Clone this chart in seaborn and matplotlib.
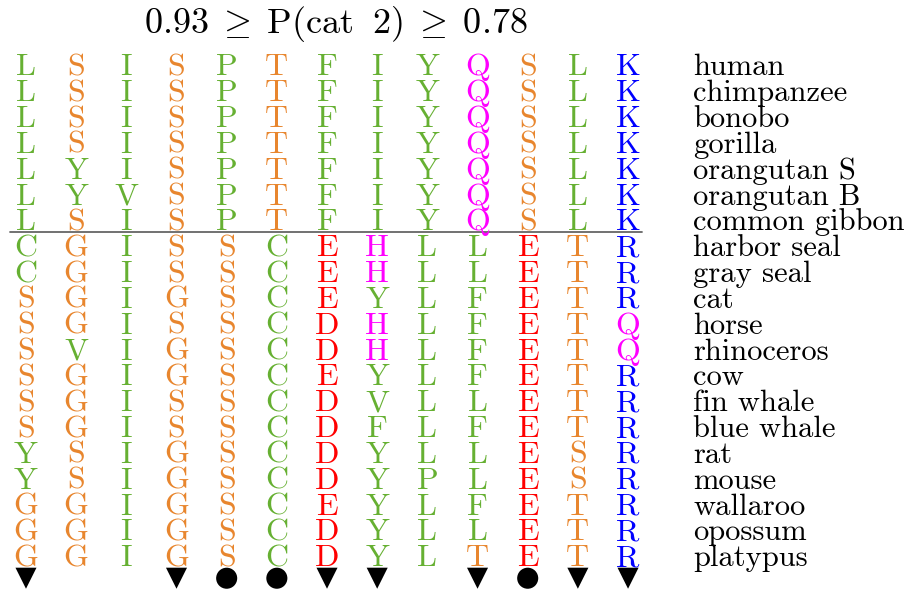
import matplotlib
matplotlib.use("Agg")
import matplotlib.pyplot as plt
import seaborn as sns
import pandas as pd

sns.set_theme(style="white")
plt.rcParams["mathtext.fontset"] = "cm"
plt.rcParams["font.family"] = ["cmr10", "DejaVu Sans"]
plt.rcParams["axes.formatter.use_mathtext"] = True

species = ["human", "chimpanzee", "bonobo", "gorilla", "orangutan S", "orangutan B",
           "common gibbon", "harbor seal", "gray seal", "cat", "horse", "rhinoceros",
           "cow", "fin whale", "blue whale", "rat", "mouse", "wallaroo", "opossum",
           "platypus"]
sequences = ["LSISPTFIYQSLK", "LSISPTFIYQSLK", "LSISPTFIYQSLK", "LSISPTFIYQSLK",
             "LYISPTFIYQSLK", "LYVSPTFIYQSLK", "LSISPTFIYQSLK",
             "CGISSCEHLLETR", "CGISSCEHLLETR", "SGIGSCEYLFETR", "SGISSCDHLFETQ",
             "SVIGSCDHLFETQ", "SGIGSCEYLFETR", "SGISSCDVLLETR", "SGISSCDFLFETR",
             "YSIGSCDYLLESR", "YSIGSCDYPLESR", "GGIGSCEYLFETR", "GGIGSCDYLLETR",
             "GGIGSCDYLTETR"]
marker_kind = ["v", "", "", "v", "o", "o", "v", "v", "", "v", "o", "v", "v"]
title = r"$0.93\;\geq\;\mathrm{P(cat\;\ 2)}\;\geq\;0.78$"
split_after = 7

green, orange = "#66b032", "#e8862e"
aa_colors = {}
for a in "LIPFYCVWMA":
    aa_colors[a] = green
for a in "STGN":
    aa_colors[a] = orange
for a in "ED":
    aa_colors[a] = "#ff0000"
for a in "QH":
    aa_colors[a] = "#ff00ff"
for a in "KR":
    aa_colors[a] = "#0000ff"

fig = plt.figure(figsize=(9.08, 5.89), dpi=100)
ax = fig.add_axes([0, 0, 1, 1])
ax.set_xlim(-0.518, 17.58)
ax.set_ylim(20.317, -2.477)
ax.axis("off")

fs = 23
for r, seq in enumerate(sequences):
    for c, aa in enumerate(seq):
        ax.text(c, r + 0.44, aa, ha="center", va="baseline", fontsize=fs,
                color=aa_colors[aa])
    ax.text(13.3, r + 0.44, species[r], ha="left", va="baseline", fontsize=22,
            color="black")

ax.plot([-0.32, 12.28], [split_after - 0.5, split_after - 0.5], color="#666666", lw=1.3)

mdf = pd.DataFrame({"col": list(range(len(marker_kind))), "kind": marker_kind})
mdf = mdf[mdf["kind"] != ""]
mdf["row"] = len(species) - 0.1
sns.scatterplot(data=mdf, x="col", y="row", style="kind",
                markers={"v": "v", "o": "o"}, s=230, color="black",
                edgecolor="black", linewidth=0, legend=False, ax=ax)
ax.set_xlim(-0.518, 17.58)
ax.set_ylim(20.317, -2.477)

ax.text(6.17, -1.21, title, ha="center", va="baseline", fontsize=26, color="black")

fig.savefig("out.png", dpi=100)
